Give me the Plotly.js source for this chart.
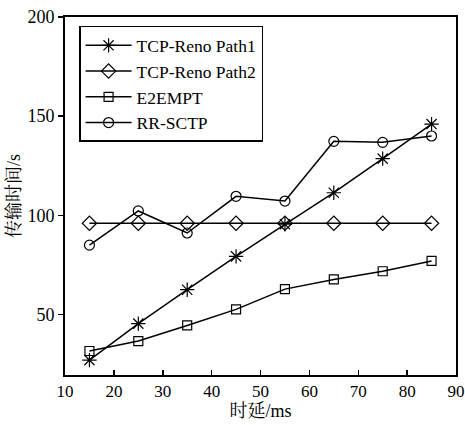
<!DOCTYPE html>
<html><head><meta charset="utf-8">
<script src="https://cdn.plot.ly/plotly-3.0.1.min.js"></script>
<style>html,body{margin:0;padding:0;background:#fff;}</style>
</head><body>
<div id="chart" style="width:465px;height:425px;"></div>
<script>
const delays = [15, 25, 35, 45, 55, 65, 75, 85];
const renoPath1 = [27, 45.4, 62.5, 79.3, 95.5, 111.4, 128.6, 146];
const renoPath2 = [96, 96, 96, 96, 96, 96, 96, 96];
const e2empt = [31.6, 36.6, 44.5, 52.6, 62.8, 67.7, 71.8, 77];
const rrSctp = [85, 102.2, 91.1, 109.6, 107.2, 137.3, 136.8, 140];
const seriesNames = ["TCP-Reno Path1", "TCP-Reno Path2", "E2EMPT", "RR-SCTP"];
const xTicks = [10, 20, 30, 40, 50, 60, 70, 80, 90];
const yTicks = [50, 100, 150, 200];

const serif = "Liberation Serif, Noto Serif CJK SC, Noto Sans CJK SC, serif";
function tr(y, name, sym, size) {
  return {x: delays, y: y, name: name, type: 'scatter', mode: 'lines+markers',
    line: {color: '#000', width: 1.5},
    marker: {symbol: sym, size: size, color: '#000', line: {color: '#000', width: 1.2}}};
}
const data = [
  tr(renoPath1, seriesNames[0], 'asterisk-open', 12),
  tr(renoPath2, seriesNames[1], 'diamond-open', 11),
  tr(e2empt, seriesNames[2], 'square-open', 9),
  tr(rrSctp, seriesNames[3], 'circle-open', 10)
];
const layout = {
  width: 465, height: 425,
  margin: {l: 65, r: 9, t: 17, b: 50},
  paper_bgcolor: '#fff', plot_bgcolor: '#fff',
  font: {family: serif, size: 18, color: '#000'},
  showlegend: true,
  legend: {x: 0.036, y: 0.975, xanchor: 'left', yanchor: 'top',
    bordercolor: '#000', borderwidth: 1.5, bgcolor: '#fff',
    font: {family: serif, size: 17.5, color: '#000'}, tracegroupgap: 0, itemwidth: 46},
  xaxis: {range: [10, 90], tickvals: xTicks, ticktext: xTicks.map(String),
    ticks: 'inside', ticklen: 5, tickwidth: 1.5, tickcolor: '#000',
    showline: true, linecolor: '#000', linewidth: 2, mirror: true,
    showgrid: false, zeroline: false, ticklabeloverflow: 'allow',
    tickfont: {family: serif, size: 17},
    title: {text: '时延/ms', font: {family: serif, size: 18}, standoff: 4}},
  yaxis: {range: [19.5, 200], tickvals: yTicks, ticktext: yTicks.map(String),
    ticks: 'outside', ticklen: 5, tickwidth: 1.5, tickcolor: '#000',
    showline: true, linecolor: '#000', linewidth: 2, mirror: true,
    showgrid: false, zeroline: false,
    tickfont: {family: serif, size: 18},
    title: {text: '传输时间/s', font: {family: serif, size: 18}, standoff: 2}}
};
Plotly.newPlot('chart', data, layout, {displayModeBar: false, staticPlot: true});
</script>
</body></html>
